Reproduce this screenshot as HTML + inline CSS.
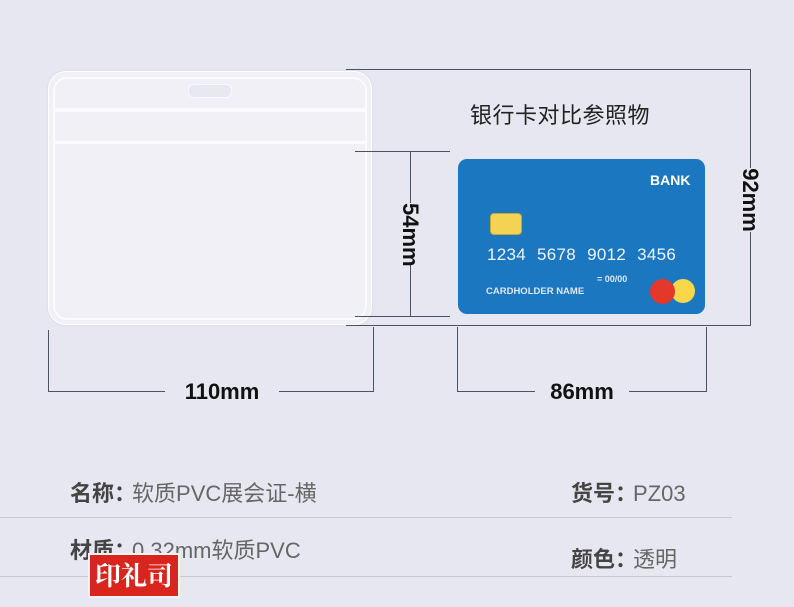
<!DOCTYPE html>
<html><head><meta charset="utf-8"><style>
body{margin:0;width:794px;height:607px;background:#e7e7f1;position:relative;overflow:hidden;font-family:"Liberation Sans","Noto Sans CJK SC",sans-serif}
.a{position:absolute}
.l{position:absolute;background:#4a5266}
.k{color:#444;font-weight:bold;margin-right:-4px}
</style></head><body>
<!-- holder -->
<div class="a" style="left:48px;top:71px;width:324px;height:254px;border-radius:18px;background:#f0f0f6;border:1px solid #fff;box-shadow:0 0 2px #cfd0dc;box-sizing:border-box"></div>
<div class="a" style="left:53px;top:77px;width:314px;height:243px;border-radius:14px;border:2px solid #fbfbff;box-sizing:border-box"></div>
<div class="a" style="left:53px;top:108px;width:314px;height:4px;background:#fbfbff"></div>
<div class="a" style="left:53px;top:141px;width:314px;height:3px;background:#fbfbff"></div>
<div class="a" style="left:188px;top:84px;width:42px;height:12px;border-radius:6px;background:#e8e8f0;border:1px solid #f8f8ff"></div>
<!-- dim lines -->
<div class="l" style="left:346px;top:69px;width:405px;height:1px"></div>
<div class="l" style="left:750px;top:69px;width:1px;height:257px"></div>
<div class="l" style="left:346px;top:325px;width:405px;height:1px"></div>
<div class="l" style="left:355px;top:151px;width:95px;height:1px"></div>
<div class="l" style="left:355px;top:316px;width:95px;height:1px"></div>
<div class="l" style="left:410px;top:151px;width:1px;height:165px"></div>
<div class="a" style="left:380px;top:233px;width:60px;text-align:center;font-weight:bold;font-size:22px;line-height:22px;color:#111;background:#e7e7f1;transform:translateY(-50%) rotate(90deg)">54mm</div>
<div class="a" style="left:718px;top:200px;width:64px;text-align:center;font-weight:bold;font-size:22px;line-height:22px;color:#111;background:#e7e7f1;transform:translateY(-50%) rotate(90deg)">92mm</div>
<div class="l" style="left:48px;top:330px;width:1px;height:62px"></div>
<div class="l" style="left:373px;top:327px;width:1px;height:65px"></div>
<div class="l" style="left:48px;top:391px;width:326px;height:1px"></div>
<div class="a" style="left:165px;top:379px;width:114px;text-align:center;font-weight:bold;font-size:22px;color:#111;background:#e7e7f1">110mm</div>
<div class="l" style="left:457px;top:327px;width:1px;height:65px"></div>
<div class="l" style="left:706px;top:327px;width:1px;height:65px"></div>
<div class="l" style="left:457px;top:391px;width:250px;height:1px"></div>
<div class="a" style="left:535px;top:379px;width:94px;text-align:center;font-weight:bold;font-size:22px;color:#111;background:#e7e7f1">86mm</div>
<div class="a" style="left:470px;top:98px;font-size:22px;color:#222;letter-spacing:0.5px">银行卡对比参照物</div>
<!-- card -->
<div class="a" style="left:458px;top:159px;width:247px;height:155px;border-radius:9px;background:#1b77c0"></div>
<div class="a" style="left:650px;top:172px;color:#fff;font-size:14px;font-weight:bold">BANK</div>
<div class="a" style="left:490px;top:213px;width:32px;height:22px;border-radius:4px;background:#f4d252;border:1px solid #c9a838;box-sizing:border-box"></div>
<div class="a" style="left:487px;top:245px;color:#f0f4fb;font-size:17px;word-spacing:6px;letter-spacing:0.3px">1234 5678 9012 3456</div>
<div class="a" style="left:597px;top:274px;color:#dde8f5;font-size:9px;font-weight:bold">= 00/00</div>
<div class="a" style="left:486px;top:286px;color:#dde8f5;font-size:9.5px;font-weight:bold">CARDHOLDER NAME</div>
<div class="a" style="left:671px;top:279px;width:24px;height:24px;border-radius:50%;background:#f8d84a"></div>
<div class="a" style="left:650px;top:279px;width:25px;height:25px;border-radius:50%;background:#e3382a"></div>
<!-- bottom info -->
<div class="a" style="left:70px;top:476px;font-size:22px;color:#666"><span class="k">名称：</span>软质PVC展会证-横</div>
<div class="a" style="left:571px;top:476px;font-size:22px;color:#666"><span class="k">货号：</span>PZ03</div>
<div class="a" style="left:0;top:517px;width:732px;height:1px;background:#c9c9d0"></div>
<div class="a" style="left:70px;top:533px;font-size:22px;color:#666"><span class="k">材质：</span>0.32mm软质PVC</div>
<div class="a" style="left:571px;top:542px;font-size:22px;color:#666"><span class="k">颜色：</span>透明</div>
<div class="a" style="left:0;top:576px;width:732px;height:1px;background:#c9c9d0"></div>
<div class="a" style="left:88px;top:553px;width:92px;height:45px;background:#d8251d;border:2px solid #f3f3f3;box-sizing:border-box;color:#fff;font-size:26px;font-weight:bold;text-align:center;line-height:40px;font-family:'Noto Serif CJK SC',serif">印礼司</div>
</body></html>
